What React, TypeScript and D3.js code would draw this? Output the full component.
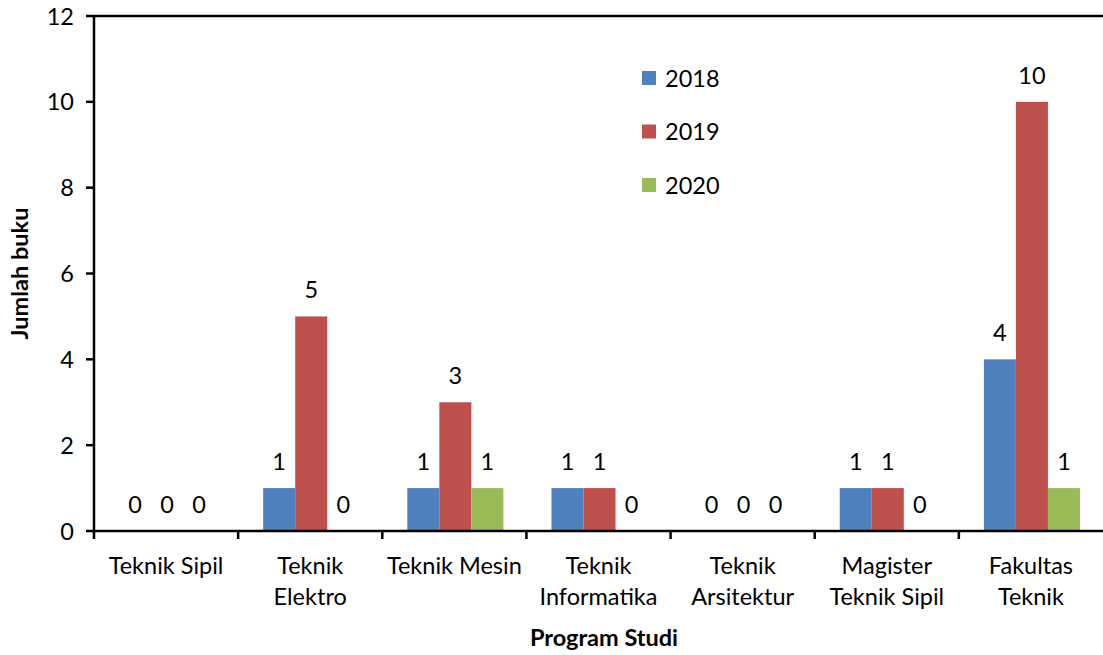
import React from "react";
import * as d3 from "d3";

const categories: string[][] = [
  ["Teknik Sipil"],
  ["Teknik", "Elektro"],
  ["Teknik Mesin"],
  ["Teknik", "Informatika"],
  ["Teknik", "Arsitektur"],
  ["Magister", "Teknik Sipil"],
  ["Fakultas", "Teknik"],
];
const seriesNames = ["2018", "2019", "2020"];
const values2018 = [0, 1, 1, 1, 0, 1, 4];
const values2019 = [0, 5, 3, 1, 0, 1, 10];
const values2020 = [0, 0, 1, 0, 0, 0, 1];
const seriesColors = ["#4F81BD", "#C0504D", "#9BBB59"];
const yTicks = [0, 2, 4, 6, 8, 10, 12];

const W = 1103;
const H = 655;
const left = 94;
const right = 1103;
const top = 16;
const bottom = 531;
const FONT = "Lato, 'Open Sans', sans-serif";
const FS = 23.5;

export default function App() {
  const series = [values2018, values2019, values2020];
  const x = d3
    .scaleBand<number>()
    .domain(d3.range(categories.length))
    .range([left, right])
    .paddingInner(0)
    .paddingOuter(0);
  const bw = x.bandwidth();
  const barW = bw / 4.5;
  const innerX = (j: number) => (bw - 3 * barW) / 2 + j * barW + 1;
  const y = d3.scaleLinear().domain([0, 12]).range([bottom, top]);

  return (
    <svg width={W} height={H} style={{ position: "absolute", left: 0, top: 0 }} fontFamily={FONT}>
      <rect width={W} height={H} fill="#fff" />
      {categories.map((_, i) =>
        series.map((vals, j) => {
          const bx = (x(i) as number) + innerX(j);
          const v = vals[i];
          return (
            <g key={`${i}-${j}`}>
              {v > 0 && (
                <rect x={bx} y={y(v)} width={barW} height={y(0) - y(v)} fill={seriesColors[j]} />
              )}
              <text x={bx + barW / 2} y={y(v) - 18} textAnchor="middle" fontSize={FS} fill="#000">
                {v}
              </text>
            </g>
          );
        })
      )}
      <line x1={left} x2={right} y1={top} y2={top} stroke="#000" strokeWidth={2.5} />
      <line x1={left} x2={left} y1={top - 1} y2={bottom + 8} stroke="#000" strokeWidth={2.5} />
      <line x1={left} x2={right} y1={bottom} y2={bottom} stroke="#000" strokeWidth={2.5} />
      {yTicks.map((t) => (
        <g key={t}>
          <line x1={left - 8} x2={left} y1={y(t)} y2={y(t)} stroke="#000" strokeWidth={2.5} />
          <text x={74} y={y(t) + 8.5} textAnchor="end" fontSize={FS} fill="#000">
            {t}
          </text>
        </g>
      ))}
      {d3.range(1, categories.length).map((i) => {
        const tx = x(i) as number;
        return <line key={i} x1={tx} x2={tx} y1={bottom} y2={bottom + 8} stroke="#000" strokeWidth={2.5} />;
      })}
      {categories.map((lines, i) => (
        <text key={i} textAnchor="middle" fontSize={FS} fill="#000">
          {lines.map((l, k) => (
            <tspan key={k} x={(x(i) as number) + bw / 2} y={574 + k * 31}>
              {l}
            </tspan>
          ))}
        </text>
      ))}
      <text x={604} y={646} textAnchor="middle" fontSize={FS} fontWeight="bold" fill="#000">
        Program Studi
      </text>
      <text
        transform={`translate(28, ${(top + bottom) / 2}) rotate(-90)`}
        textAnchor="middle"
        fontSize={FS}
        fontWeight="bold"
        fill="#000"
      >
        Jumlah buku
      </text>
      {seriesNames.map((n, j) => (
        <g key={n} transform={`translate(642, ${78 + j * 53.5})`}>
          <rect x={0} y={-7} width={14} height={14} fill={seriesColors[j]} />
          <text x={23} y={8.5} fontSize={FS} fill="#000">
            {n}
          </text>
        </g>
      ))}
    </svg>
  );
}
